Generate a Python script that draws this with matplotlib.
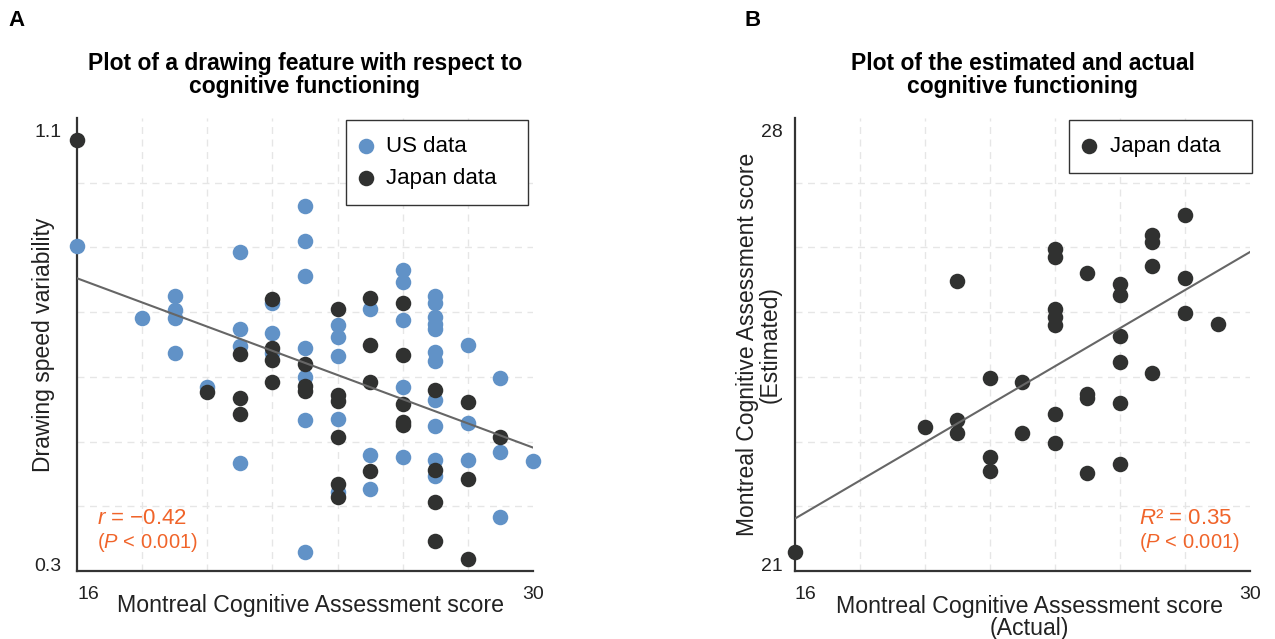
import numpy as np
import matplotlib
matplotlib.use("Agg")
import matplotlib.pyplot as plt
from matplotlib.transforms import ScaledTranslation

plt.rcParams["font.family"] = ["Liberation Sans", "DejaVu Sans"]
plt.rcParams["mathtext.fontset"] = "custom"
plt.rcParams["mathtext.rm"] = "Liberation Sans"
plt.rcParams["mathtext.it"] = "Liberation Sans:italic"

# --- panel A: drawing speed variability vs MoCA score
us_x = [16, 18, 19, 19, 19, 19, 20, 21, 21, 21, 21, 22, 22, 22,
        23, 23, 23, 23, 23, 23, 23, 24, 24, 24, 24, 24, 25, 25, 25,
        26, 26, 26, 26, 26, 27, 27, 27, 27, 27, 27, 27, 27, 27, 27, 27,
        28, 28, 28, 29, 29, 29, 30]
us_y = [0.874, 0.747, 0.786, 0.761, 0.747, 0.685, 0.625,
        0.864, 0.727, 0.697, 0.491, 0.773, 0.721, 0.685,
        0.945, 0.883, 0.821, 0.693, 0.642, 0.566, 0.334,
        0.734, 0.713, 0.679, 0.568, 0.439, 0.762, 0.505, 0.444,
        0.831, 0.811, 0.743, 0.625, 0.502,
        0.786, 0.774, 0.748, 0.737, 0.727, 0.686, 0.671, 0.602, 0.556, 0.496, 0.467,
        0.699, 0.561, 0.496, 0.640, 0.510, 0.395, 0.495]

jp_x = [16, 20, 21, 21, 21, 22, 22, 22, 22, 23, 23, 23,
        24, 24, 24, 24, 24, 24, 25, 25, 25, 25, 26, 26, 26, 26, 26,
        27, 27, 27, 27, 28, 28, 28, 29]
jp_y = [1.062, 0.616, 0.684, 0.605, 0.578, 0.781, 0.693, 0.672, 0.634,
        0.666, 0.626, 0.618, 0.763, 0.611, 0.601, 0.536, 0.454, 0.430,
        0.783, 0.699, 0.634, 0.477, 0.774, 0.682, 0.595, 0.563, 0.558,
        0.619, 0.478, 0.422, 0.353, 0.598, 0.462, 0.321, 0.537]

fit_a_x = [16, 30]
fit_a_y = [0.817, 0.518]

# --- panel B: estimated vs actual MoCA (Japan)
est_x = [16, 20, 21, 21, 21, 22, 22, 22, 23, 23,
         24, 24, 24, 24, 24, 24, 24, 25, 25, 25, 25,
         26, 26, 26, 26, 26, 26, 27, 27, 27, 27, 28, 28, 28, 29]
est_y = [21.30, 23.23, 25.48, 23.33, 23.13, 23.99, 22.76, 22.54, 23.92, 23.13,
         25.98, 25.85, 25.05, 24.92, 24.80, 23.43, 22.98,
         25.61, 23.74, 23.67, 22.51,
         25.43, 25.27, 24.63, 24.23, 23.60, 22.65,
         26.19, 26.09, 25.71, 24.06, 26.50, 25.53, 24.98, 24.82]

fit_b_x = [16, 30]
fit_b_y = [21.81, 25.93]

blue = "#6192c7"
dark = "#303130"
orange = "#f0642a"
spine_c = "#333333"

fig = plt.figure(figsize=(12.75, 6.39), dpi=100)
axA = fig.add_axes([0.0604, 0.1064, 0.3576, 0.7089])
axB = fig.add_axes([0.6235, 0.1064, 0.3569, 0.7089])


def style_axes(ax, ylim, yticks, ygrid, ypad):
    ax.set_xlim(16, 30)
    ax.set_ylim(*ylim)
    for s in ["top", "right"]:
        ax.spines[s].set_visible(False)
    for s in ["left", "bottom"]:
        ax.spines[s].set_color(spine_c)
        ax.spines[s].set_linewidth(1.6)
    ax.set_xticks([16, 30])
    ax.set_xticklabels(["16", "30"])
    ax.set_xticks(np.arange(18, 30, 2), minor=True)
    ax.set_yticks(yticks)
    ax.set_yticklabels([str(t) for t in yticks])
    ax.set_yticks(ygrid, minor=True)
    ax.tick_params(which="both", length=0)
    ax.tick_params(axis="x", pad=11, labelsize=14, labelcolor="#222222")
    ax.tick_params(axis="y", pad=ypad, labelsize=14, labelcolor="#222222")
    ax.get_xticklabels()[0].set_ha("left")
    ax.get_yticklabels()[0].set_va("baseline")
    top_lbl = ax.get_yticklabels()[1]
    top_lbl.set_va("top")
    top_lbl.set_transform(top_lbl.get_transform()
                          + ScaledTranslation(0, -4 / 72, fig.dpi_scale_trans))
    ax.grid(which="minor", color="#e6e6e6", linestyle=(0, (5, 4)), linewidth=1)
    ax.grid(which="major", visible=False)
    ax.set_axisbelow(True)


style_axes(axA, (0.3, 1.1), [0.3, 1.1], np.linspace(0.3, 1.1, 8)[1:-1], 11)
style_axes(axB, (21, 28), [21, 28], np.arange(22, 28), 9)

leg_kw = dict(loc="upper right", mode="expand", borderaxespad=0, fontsize=16,
              frameon=True, fancybox=False, framealpha=1, edgecolor="#333333",
              handlelength=0.38, handletextpad=0.73, borderpad=0.72,
              labelspacing=0.5)

# panel A
axA.scatter(us_x, us_y, s=125, color=blue, linewidths=0, zorder=3,
            clip_on=False, label="US data")
axA.scatter(jp_x, jp_y, s=125, color=dark, linewidths=0, zorder=3,
            clip_on=False, label="Japan data")
axA.plot(fit_a_x, fit_a_y, color="#666666", lw=1.5, zorder=4)
axA.set_title("Plot of a drawing feature with respect to\ncognitive functioning",
              fontsize=16.5, fontweight="bold", pad=18, linespacing=0.98)
axA.set_xlabel("Montreal Cognitive Assessment score", fontsize=16.7, color="#222222")
axA.xaxis.set_label_coords(0.513, -0.05)
axA.set_ylabel("Drawing speed variability", fontsize=16.5, color="#222222")
axA.yaxis.set_label_coords(-0.048, 0.5)
legA = axA.legend(bbox_to_anchor=(0.589, 0.0, 0.401, 0.996), **leg_kw)
legA.get_frame().set_linewidth(1.0)
axA.text(0.043, 0.117, "$r$ = \u22120.42", transform=axA.transAxes, fontsize=16,
         color=orange, va="center", ha="left")
axA.text(0.043, 0.064, "($P$ < 0.001)", transform=axA.transAxes, fontsize=14.5,
         color=orange, va="center", ha="left")

# panel B
axB.scatter(est_x, est_y, s=125, color=dark, linewidths=0, zorder=3,
            clip_on=False, label="Japan data")
axB.plot(fit_b_x, fit_b_y, color="#666666", lw=1.5, zorder=4)
axB.set_title("Plot of the estimated and actual\ncognitive functioning",
              fontsize=16.5, fontweight="bold", pad=18, linespacing=0.98)
axB.set_xlabel("Montreal Cognitive Assessment score\n(Actual)", fontsize=16.7,
               color="#222222", linespacing=0.95)
axB.xaxis.set_label_coords(0.515, -0.053)
axB.set_ylabel("Montreal Cognitive Assessment score\n(Estimated)", fontsize=16.5,
               color="#222222", linespacing=0.95)
axB.yaxis.set_label_coords(-0.03, 0.5)
legB = axB.legend(bbox_to_anchor=(0.602, 0.0, 0.402, 0.996), **leg_kw)
legB.get_frame().set_linewidth(1.0)
axB.text(0.756, 0.117, "$R$\u00b2 = 0.35", transform=axB.transAxes, fontsize=16,
         color=orange, va="center", ha="left")
axB.text(0.756, 0.064, "($P$ < 0.001)", transform=axB.transAxes, fontsize=14.5,
         color=orange, va="center", ha="left")

fig.text(0.007, 0.968, "A", fontsize=16, fontweight="bold", va="center")
fig.text(0.584, 0.968, "B", fontsize=16, fontweight="bold", va="center")

fig.savefig("out.png", dpi=100, facecolor="white")
